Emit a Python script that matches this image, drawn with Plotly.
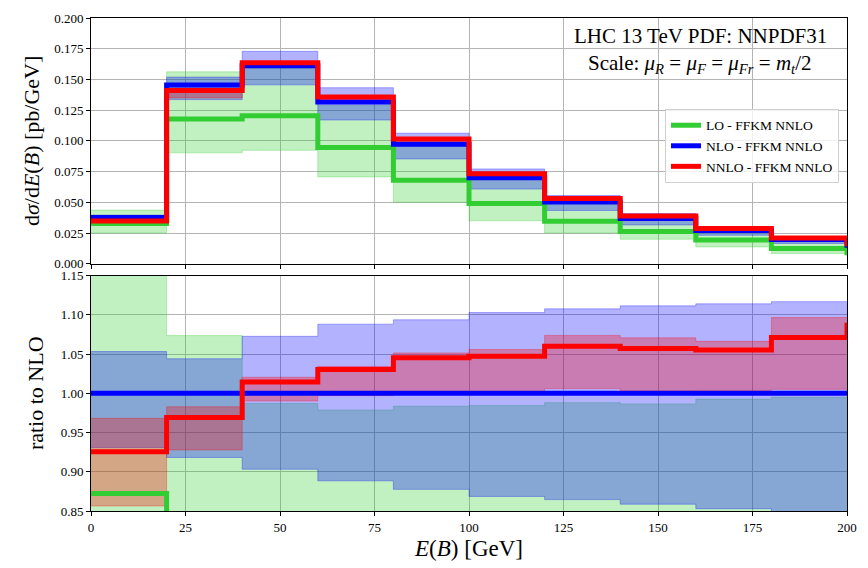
import numpy as np
import plotly.graph_objects as go
from plotly.subplots import make_subplots

# Bin edges in E(B) [GeV]; the extra 200-220 overflow bin is only visible as
# the step at the right border.
edges = [0, 20, 40, 60, 80, 100, 120, 140, 160, 180, 200]
overflow_edge = 220

# Central predictions, dsigma/dE(B) [pb/GeV] (last value = overflow bin)
lo_central = [0.0328, 0.1178, 0.1205, 0.0946, 0.0680, 0.0490, 0.0347, 0.0262, 0.0193, 0.0124, 0.0090]
nlo_central = [0.0376, 0.1455, 0.1612, 0.1317, 0.0972, 0.0700, 0.0502, 0.0368, 0.0272, 0.0197, 0.0150]
nnlo_central = [0.0348, 0.1410, 0.1635, 0.1357, 0.1016, 0.0733, 0.0532, 0.0389, 0.0287, 0.0211, 0.0163]

# Scale-variation envelopes
lo_low = [0.0251, 0.0903, 0.0924, 0.0707, 0.0501, 0.0350, 0.0251, 0.0200, 0.0137, 0.0084]
lo_high = [0.0437, 0.1562, 0.1591, 0.1289, 0.0956, 0.0689, 0.0496, 0.0363, 0.0270, 0.0196]
nlo_low = [0.0350, 0.1336, 0.1456, 0.1170, 0.0853, 0.0608, 0.0434, 0.0316, 0.0232, 0.0166]
nlo_high = [0.0396, 0.1519, 0.1729, 0.1433, 0.1063, 0.0772, 0.0556, 0.0409, 0.0303, 0.0220]
nnlo_low = [0.0322, 0.1350, 0.1596, 0.1313, 0.0974, 0.0701, 0.0505, 0.0369, 0.0273, 0.0198]
nnlo_high = [0.0364, 0.1430, 0.1645, 0.1362, 0.1022, 0.0739, 0.0539, 0.0394, 0.0290, 0.0216]

series = [
    ("LO - FFKM NNLO", "rgb(50,205,50)", "rgba(50,205,50,0.3)", lo_central, lo_low, lo_high),
    ("NLO - FFKM NNLO", "rgb(0,0,255)", "rgba(0,0,255,0.3)", nlo_central, nlo_low, nlo_high),
    ("NNLO - FFKM NNLO", "rgb(255,0,0)", "rgba(255,0,0,0.3)", nnlo_central, nnlo_low, nnlo_high),
]

FONT = "Liberation Serif"

fig = make_subplots(rows=2, cols=1, shared_xaxes=True)

ref = np.array(nlo_central)
band_x = edges
line_x = edges + [overflow_edge]


def step_vals(v):
    v = list(v)
    return v + [v[-1]]


for row, norm in ((1, None), (2, ref)):
    # bands first, then the central lines on top
    for name, col, fcol, cen, low, high in series:
        lo = np.array(low)
        hi = np.array(high)
        if norm is not None:
            lo = lo / norm[: len(lo)]
            hi = hi / norm[: len(hi)]
        fig.add_trace(go.Scatter(x=band_x, y=step_vals(hi), mode="lines",
                                 line=dict(shape="hv", color=fcol, width=1),
                                 showlegend=False, hoverinfo="skip"), row=row, col=1)
        fig.add_trace(go.Scatter(x=band_x, y=step_vals(lo), mode="lines",
                                 line=dict(shape="hv", color=fcol, width=1),
                                 fill="tonexty", fillcolor=fcol,
                                 showlegend=False, hoverinfo="skip"), row=row, col=1)
    for name, col, fcol, cen, low, high in series:
        c = np.array(cen)
        if norm is not None:
            c = c / norm
        fig.add_trace(go.Scatter(x=line_x, y=step_vals(c), mode="lines",
                                 line=dict(shape="hv", color=col, width=5),
                                 name=name, showlegend=(row == 1)), row=row, col=1)

axis_common = dict(
    showline=True, linecolor="black", linewidth=1, mirror=True,
    showgrid=True, gridcolor="#b4b4b4", gridwidth=1,
    ticks="outside", ticklen=4, tickcolor="black", tickwidth=1,
    zeroline=False,
    tickfont=dict(family=FONT, size=13, color="black"),
)

x_ticks = [0, 25, 50, 75, 100, 125, 150, 175, 200]

fig.update_layout(
    width=868, height=568,
    margin=dict(l=91, r=21, t=11, b=53),
    paper_bgcolor="white", plot_bgcolor="white",
    font=dict(family=FONT, color="black"),
    xaxis=dict(axis_common, range=[0, 200], tickvals=x_ticks, showticklabels=False),
    xaxis2=dict(axis_common, range=[0, 200], tickvals=x_ticks,
                title=dict(text="<i>E</i>(<i>B</i>) [GeV]", font=dict(family=FONT, size=23), standoff=6)),
    yaxis=dict(axis_common, domain=[0.5014, 1.0], range=[0, 0.2],
               tickvals=[0, 0.025, 0.05, 0.075, 0.1, 0.125, 0.15, 0.175, 0.2],
               tickformat=".3f",
               title=dict(text="d<i>σ</i>/d<i>E</i>(<i>B</i>) [pb/GeV]",
                          font=dict(family=FONT, size=22), standoff=8)),
    yaxis2=dict(axis_common, domain=[0.0, 0.4776], range=[0.85, 1.15],
                tickvals=[0.85, 0.9, 0.95, 1.0, 1.05, 1.1, 1.15],
                tickformat=".2f",
                title=dict(text="ratio to NLO", font=dict(family=FONT, size=22), standoff=10)),
    legend=dict(
        x=0.9894, y=0.8155, xanchor="right", yanchor="top",
        traceorder="normal",
        bgcolor="rgba(255,255,255,0.8)", bordercolor="#d0d0d0", borderwidth=1,
        font=dict(family=FONT, size=13.5, color="black"),
        tracegroupgap=0,
    ),
)

fig.add_annotation(xref="paper", yref="paper", x=0.8056, y=0.964,
                   text="LHC 13 TeV PDF: NNPDF31", showarrow=False,
                   font=dict(family=FONT, size=21, color="black"),
                   xanchor="center", yanchor="middle")
fig.add_annotation(xref="paper", yref="paper", x=0.8056, y=0.9067,
                   text="Scale: <i>μ<sub>R</sub></i> = <i>μ<sub>F</sub></i> = "
                        "<i>μ<sub>Fr</sub></i> = <i>m<sub>t</sub></i>/2",
                   showarrow=False,
                   font=dict(family=FONT, size=21, color="black"),
                   xanchor="center", yanchor="middle")

fig.write_html("out.html")
